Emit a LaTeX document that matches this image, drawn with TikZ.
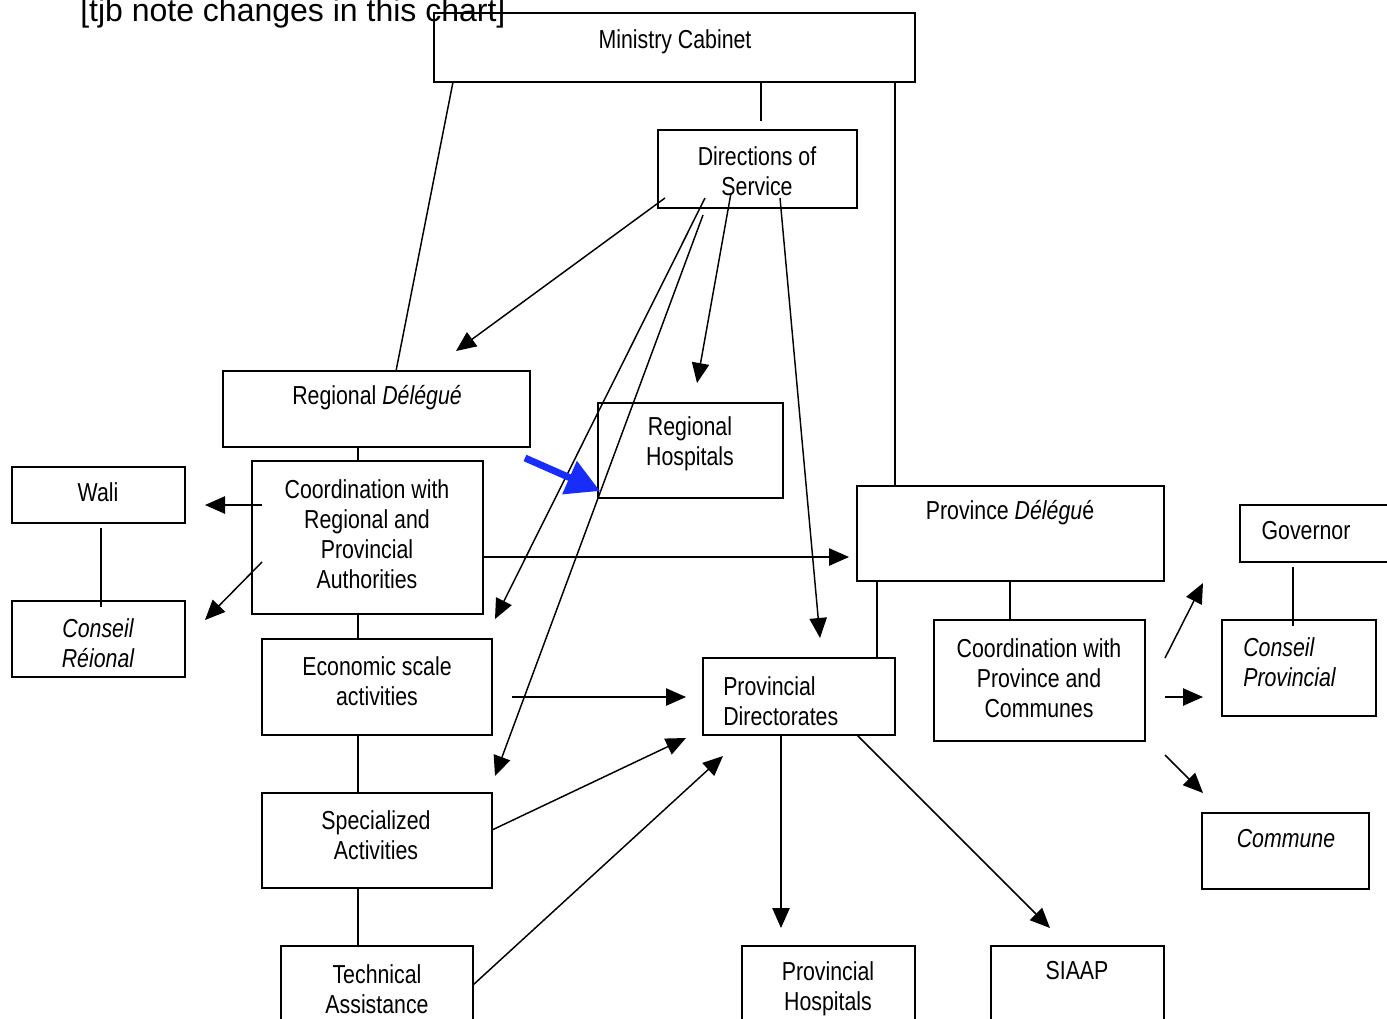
\documentclass[tikz,border=0pt]{standalone}
\usepackage{fontspec}
\setmainfont{Liberation Sans}
\newfontfamily\chartfont{Liberation Sans}[FakeStretch=0.82]
\usetikzlibrary{arrows.meta,fit}
\definecolor{noteblue}{RGB}{25,45,250}
\begin{document}
\begin{tikzpicture}[x=0.75pt,y=0.75pt,yscale=-1,xscale=1,
    box/.style={draw, line width=1.1pt, inner sep=0pt},
    txt/.style={inner sep=0pt, align=center, font=\chartfont\fontsize{19.5}{22.5}\selectfont},
    itxt/.style={txt, font=\chartfont\itshape\fontsize{19.5}{22.5}\selectfont},
    link/.style={line width=1.1pt},
    arr/.style={line width=1.1pt, -{Triangle[length=15pt,width=13pt]}}]
\useasboundingbox (0,0) rectangle (1387,1018);

% Note
\node (note) [anchor=base west, inner sep=0pt, font=\fontsize{24}{28}\selectfont] at (80,21) {[tjb note changes in this chart]};

%Shape: Rectangle
\node (cabbox) [box, fit={(434,13) (915,82)}] {};
\node (dirbox) [box, fit={(658,130) (857,208)}] {};
\node (regdelbox) [box, fit={(223,371) (530,447)}] {};
\node (reghospbox) [box, fit={(598,403) (783,498)}] {};
\node (walibox) [box, fit={(12,467) (185,523)}] {};
\node (conregbox) [box, fit={(12,601) (185,677)}] {};
\node (coordbox) [box, fit={(252,461) (483,614)}] {};
\node (econbox) [box, fit={(262,639) (492,735)}] {};
\node (specbox) [box, fit={(262,793) (492,888)}] {};
\node (techbox) [box, fit={(281,946) (473,1040)}] {};
\node (provdelbox) [box, fit={(857,486) (1164,581)}] {};
\node (govbox) [box, fit={(1240,505) (1400,562)}] {};
\node (conprovbox) [box, fit={(1222,620) (1376,716)}] {};
\node (coordprovbox) [box, fit={(934,620) (1145,741)}] {};
\node (provdirbox) [box, fit={(703,658) (895,735)}] {};
\node (communebox) [box, fit={(1202,813) (1369,889)}] {};
\node (provhospbox) [box, fit={(742,946) (915,1040)}] {};
\node (siaapbox) [box, fit={(991,946) (1164,1040)}] {};

% Text Node
\node (cab) [txt] at (675,42) {Ministry Cabinet};
\node (dir) [txt] at (757,171) {Directions of\\Service};
\node (regdel) [txt] at (377,398) {Regional \textit{Délégué}};
\node (reghosp) [txt] at (690,444) {Regional\\Hospitals};
\node (wali) [txt] at (98,492) {Wali};
\node (conreg) [itxt] at (98,643) {Conseil\\Réional};
\node (coord) [txt] at (367,534) {Coordination with\\Regional and\\Provincial\\Authorities};
\node (econ) [txt] at (377,681) {Economic scale\\activities};
\node (spec) [txt] at (376,835) {Specialized\\Activities};
\node (tech) [txt] at (377,989) {Technical\\Assistance};
\node (provdel) [txt] at (1010,513) {Province \textit{Délégu}é};
\node (gov) [txt] at (1306,531) {Governor};
\node (conprov) [itxt, anchor=west, align=left] at (1243,662) {Conseil\\Provincial};
\node (coordprov) [txt] at (1039,678) {Coordination with\\Province and\\Communes};
\node (provdir) [txt, anchor=west, align=left] at (723,701) {Provincial\\Directorates};
\node (commune) [itxt] at (1286,839) {Commune};
\node (provhosp) [txt] at (828,989) {Provincial\\Hospitals};
\node (siaap) [txt] at (1077,971) {SIAAP};

% Connector ends
\coordinate (cabA) at (453,82);      \coordinate (regdelA) at (396,371);
\coordinate (cabB) at (761,82);      \coordinate (cabBend) at (761,121);
\coordinate (cabC) at (895,82);      \coordinate (provdelA) at (895,486);
\coordinate (regdelB) at (358,447);  \coordinate (coordA) at (358,461);
\coordinate (coordB) at (358,614);   \coordinate (econA) at (358,639);
\coordinate (econB) at (358,735);    \coordinate (specA) at (358,793);
\coordinate (specB) at (358,888);    \coordinate (techA) at (358,946);
\coordinate (waliA) at (101,528);    \coordinate (conregA) at (101,607);
\coordinate (provdelB) at (1010,581); \coordinate (coordprovA) at (1010,620);
\coordinate (provdelC) at (877,581); \coordinate (provdirA) at (877,658);
\coordinate (govA) at (1293,567);    \coordinate (conprovA) at (1293,626);

\coordinate (dirA) at (665,198);     \coordinate (dirAend) at (456,351);
\coordinate (dirB) at (705,198);     \coordinate (dirBend) at (495,619);
\coordinate (dirC) at (703,215);     \coordinate (dirCend) at (495,776);
\coordinate (dirD) at (731,193);     \coordinate (dirDend) at (697,383);
\coordinate (dirE) at (780,198);     \coordinate (dirEend) at (820,638);
\coordinate (coordW) at (262,505);   \coordinate (coordWend) at (205,505);
\coordinate (coordC) at (262,562);   \coordinate (coordCend) at (205,620);
\coordinate (coordE) at (483,557);   \coordinate (coordEend) at (849,557);
\coordinate (econE) at (512,697);    \coordinate (econEend) at (686,697);
\coordinate (specE) at (492,830);    \coordinate (specEend) at (686,738);
\coordinate (techE) at (473,985);    \coordinate (techEend) at (723,756);
\coordinate (provdirS) at (781,735); \coordinate (provdirSend) at (781,928);
\coordinate (provdirT) at (857,735); \coordinate (provdirTend) at (1050,928);
\coordinate (cpA) at (1165,658);     \coordinate (cpAend) at (1203,583);
\coordinate (cpB) at (1165,697);     \coordinate (cpBend) at (1203,697);
\coordinate (cpC) at (1165,755);     \coordinate (cpCend) at (1203,793);
\coordinate (blueA) at (525,458);    \coordinate (blueAend) at (600,491);

%Straight Lines
\foreach \s/\t in {cabA/regdelA, cabB/cabBend, cabC/provdelA, regdelB/coordA,
    coordB/econA, econB/specA, specB/techA, waliA/conregA,
    provdelB/coordprovA, provdelC/provdirA, govA/conprovA}
  \draw [link] (\s) -- (\t);

%Arrows
\foreach \s in {dirA, dirB, dirC, dirD, dirE, coordW, coordC, coordE, econE,
    specE, techE, provdirS, provdirT, cpA, cpB, cpC}
  \draw [arr] (\s) -- (\s end);

% Blue note arrow
\draw [color=noteblue, line width=5.2pt, -{Triangle[length=25pt,width=26pt]}] (blueA) -- (blueAend);
\end{tikzpicture}
\end{document}
